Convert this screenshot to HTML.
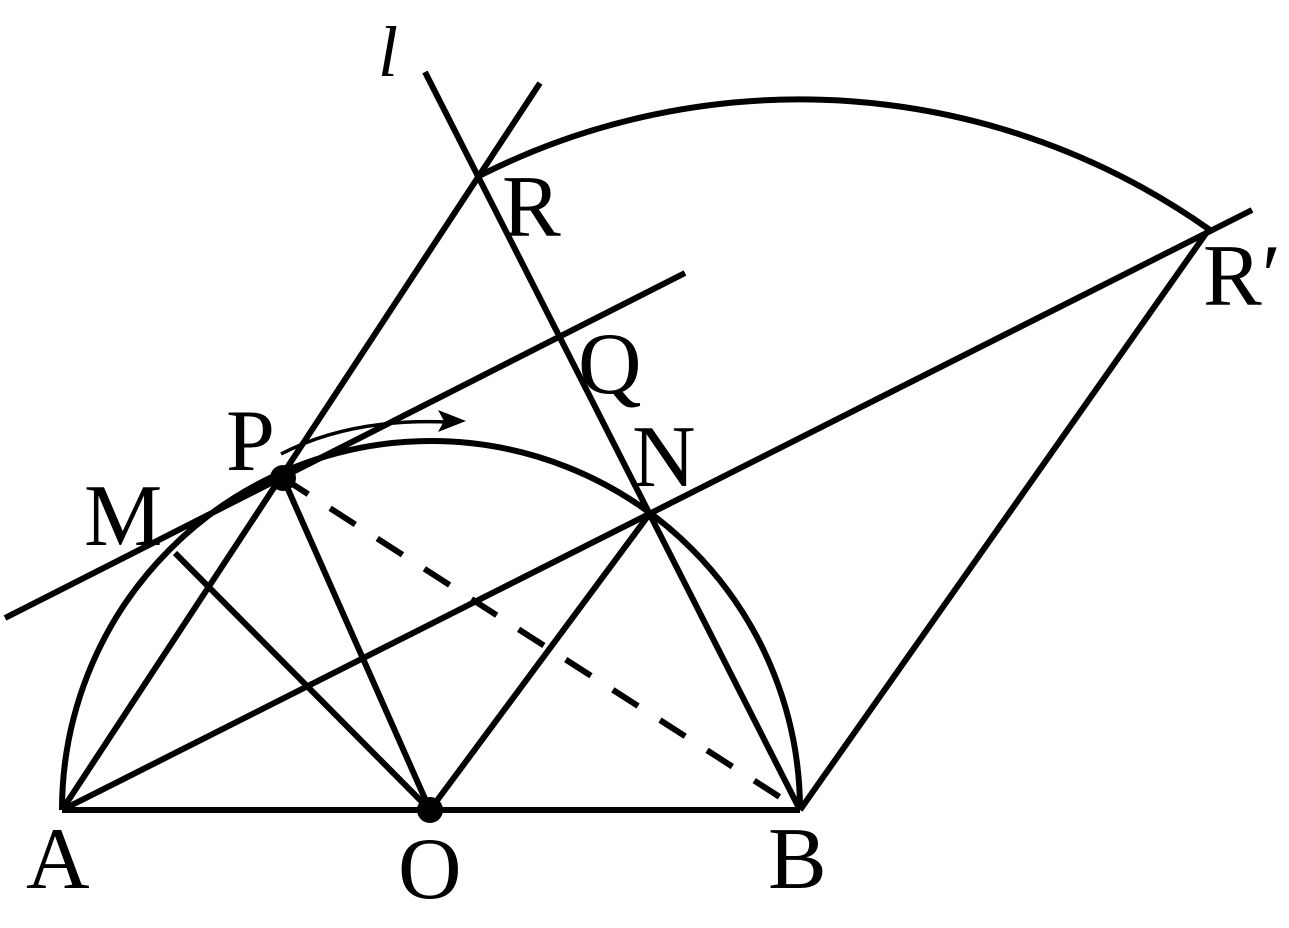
<!DOCTYPE html>
<html><head><meta charset="utf-8"><style>html,body{margin:0;padding:0;background:#fff}svg{display:block}</style></head>
<body>
<svg width="1289" height="928" viewBox="0 0 1289 928" xmlns="http://www.w3.org/2000/svg">
<g stroke="#000" stroke-width="6" fill="none" stroke-linecap="butt">
<line x1="62" y1="810" x2="800" y2="810"/>
<path d="M62 810 A368 368 0 0 1 800 810"/>
<path d="M477 177 A710 710 0 0 1 1210 230"/>
<line x1="425" y1="72" x2="800" y2="810"/>
<line x1="62" y1="810" x2="540" y2="83"/>
<line x1="62" y1="810" x2="1252" y2="210"/>
<line x1="5" y1="618" x2="685" y2="273"/>
<line x1="283" y1="478" x2="430" y2="810"/>
<line x1="430" y1="810" x2="648" y2="516"/>
<line x1="175" y1="553" x2="430" y2="810"/>
<line x1="1207" y1="232" x2="800" y2="810"/>
<line x1="283" y1="478" x2="800" y2="810" stroke-dasharray="30,26"/>
</g>
<path d="M281 454 Q350 418 448 422" stroke="#000" stroke-width="3.5" fill="none"/>
<polygon points="466,421 438,410 444,421 438,432" fill="#000"/>
<circle cx="283" cy="478" r="13" fill="#000"/>
<circle cx="430" cy="810" r="13" fill="#000"/>
<g font-family="Liberation Serif, serif" font-size="88" fill="#000">
<text x="378" y="76" font-style="italic" font-size="72">l</text>
<text x="502" y="236">R</text>
<text x="578" y="393">Q</text>
<text x="226" y="470">P</text>
<text x="632" y="486">N</text>
<text x="84" y="545">M</text>
<text x="26" y="888">A</text>
<text x="398" y="898">O</text>
<text x="768" y="888">B</text>
<text x="1203" y="305">R′</text>
</g>
</svg>
</body></html>
